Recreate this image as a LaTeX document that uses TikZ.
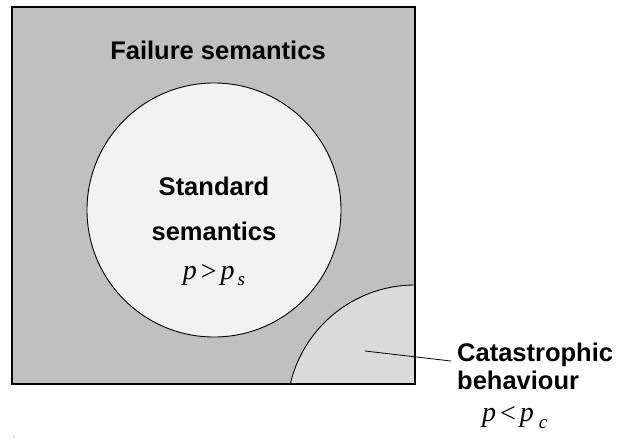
\documentclass[tikz,border=0pt]{standalone}
\usepackage{fontspec}
\setmainfont{Liberation Sans}
\newfontfamily\tms{Liberation Serif}
\definecolor{outerfill}{HTML}{C0C0C0}
\definecolor{stdfill}{HTML}{F2F2F2}
\definecolor{catfill}{HTML}{DADADA}
\definecolor{seam}{HTML}{E0E0E0}
\tikzset{
  lbl/.style={font=\fontsize{25.5}{29}\selectfont\bfseries, inner sep=0pt},
  mth/.style={font=\fontsize{28}{30}\selectfont\tms\itshape, inner sep=0pt},
  edge/.style={draw=black, line width=0.9pt},
  leader/.style={draw=black, line width=0.8pt}
}
\begin{document}
\begin{tikzpicture}[x=1pt,y=-1pt]
  \useasboundingbox (0,0) rectangle (618,439);
  % outer region: failure semantics
  \fill[outerfill] (12,7) rectangle (415,384);
  % catastrophic region: disc centred below the lower edge, clipped to the square
  \begin{scope}
    \clip (12,7) rectangle (415,384);
    \fill[catfill] (415,413) circle[radius=128];
    \draw[seam, line width=0.5pt] (415,286) -- (317,384);
    \draw[edge] (415,413) circle[radius=128];
  \end{scope}
  % standard semantics disc
  \draw[edge, fill=stdfill] (214,210) circle[radius=127];
  % frame
  \draw[black, line width=1.4pt] (12,7) rectangle (415,384);

  \node[lbl, anchor=base] (fail) at (218,59) {Failure semantics};
  \node[lbl, anchor=base] (std1) at (214,195) {Standard};
  \node[lbl, anchor=base] (std2) at (214,240) {semantics};
  \node[mth, anchor=base] (ps) at (214,279) {p\kern4pt\raisebox{-1pt}{\textup{>}}\kern4pt p\kern3pt\raisebox{-6pt}{\fontsize{19}{19}\selectfont s}};

  \node[lbl, anchor=base west] (cat1) at (457,361) {Catastrophic};
  \node[lbl, anchor=base west] (cat2) at (457,389) {behaviour};
  \node[mth, anchor=base west] (pc) at (482,421) {p\kern4pt\raisebox{-1pt}{\textup{<}}\kern4pt p\kern5pt\raisebox{-7pt}{\fontsize{19}{19}\selectfont c}};

  \coordinate (catpt) at (365,351);
  \coordinate (catend) at (451,361);
  \draw[leader] (catpt) -- (catend);

  % small stray mark near the lower left
  \fill[gray] (14,437) circle[radius=0.7];
\end{tikzpicture}
\end{document}
